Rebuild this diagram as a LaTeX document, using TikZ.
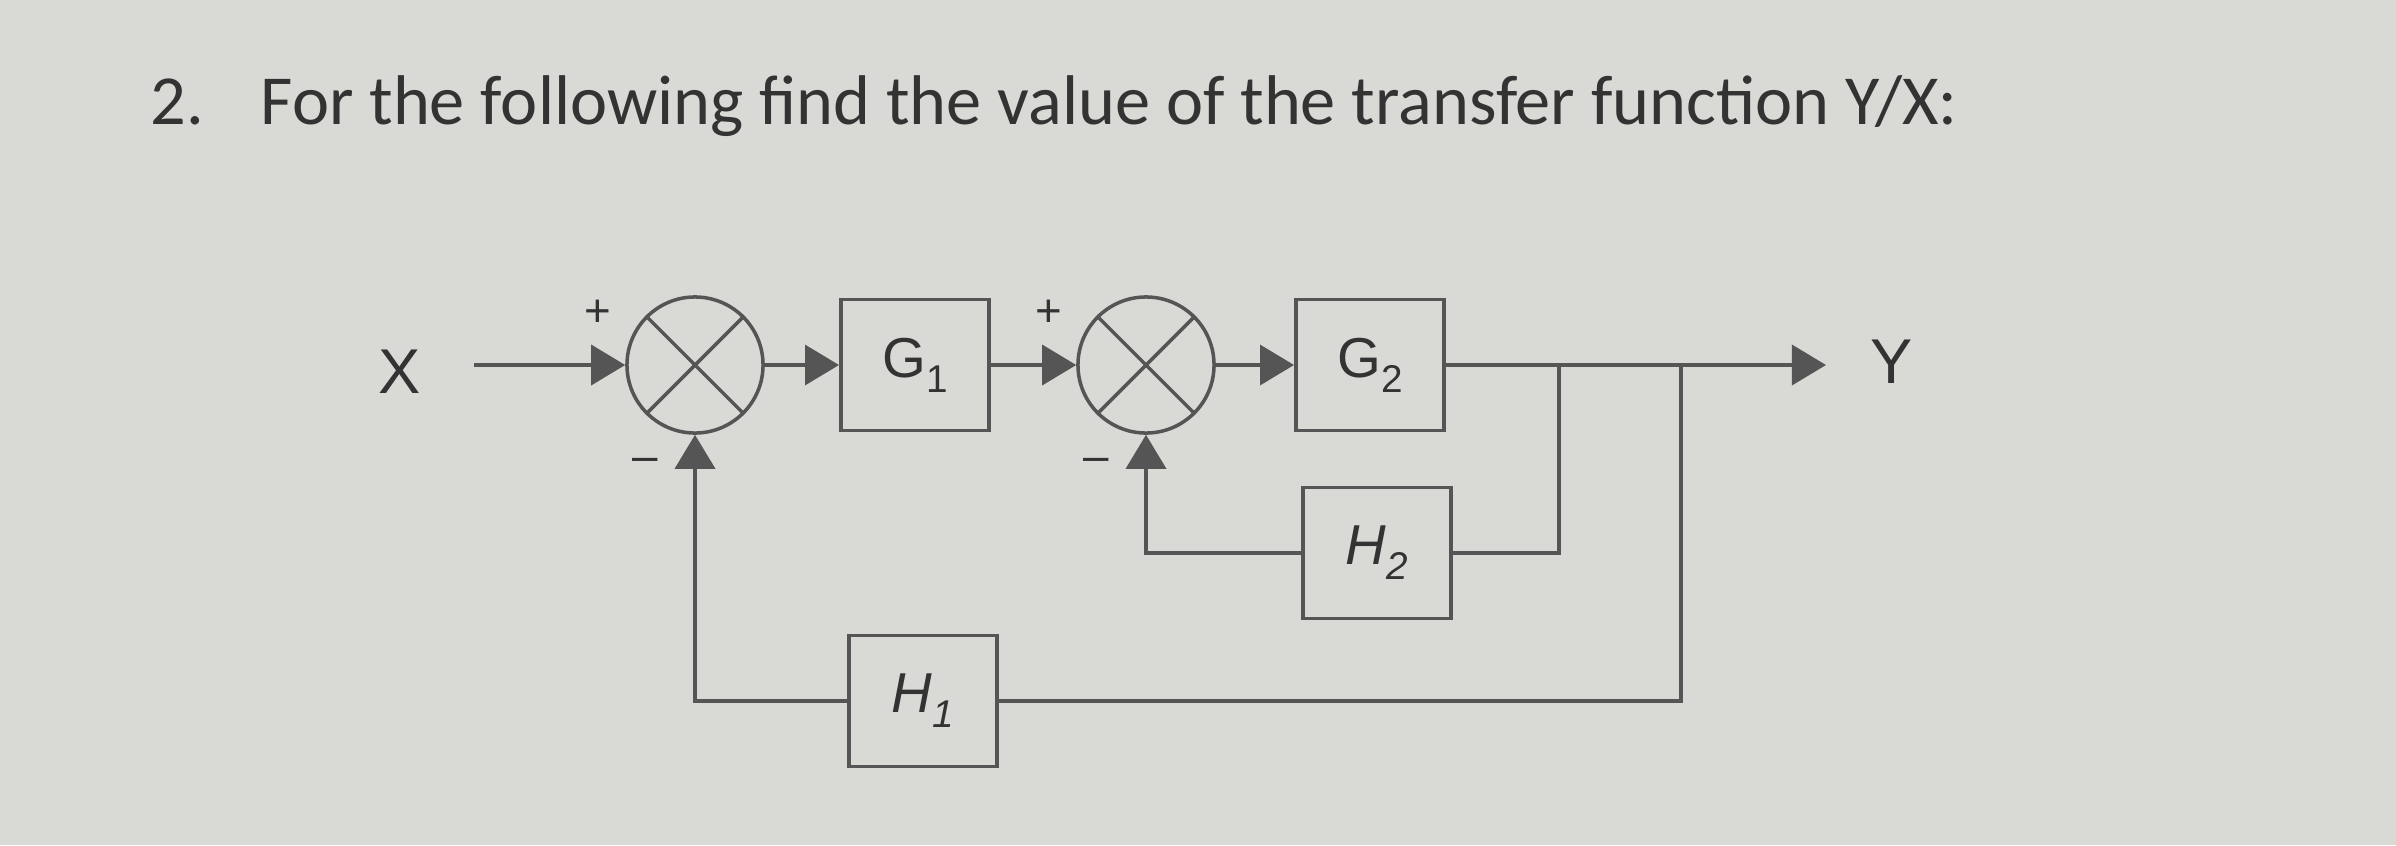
\documentclass[tikz,border=0pt]{standalone}
\usepackage{xcolor}
\usepackage{fontspec}
\setmainfont{Liberation Sans}
\newfontfamily\titlefont{Carlito}
\usepackage{tikz}
\usetikzlibrary{positioning, arrows.meta, calc}
\definecolor{paper}{HTML}{D9D9D6}
\definecolor{ink}{HTML}{555555}
\definecolor{textink}{HTML}{333333}

\newcommand{\sublab}[2]{#1\raisebox{-0.5ex}{\fontsize{11}{13}\selectfont #2}}

\tikzset{
  block/.style={draw=ink, line width=1.1pt, minimum width=1.48cm, minimum height=1.31cm,
                text=textink, font=\fontsize{16}{18}\selectfont},
  sumjunction/.style={draw=ink, line width=1pt, circle, minimum size=1.36cm, inner sep=0pt},
  wire/.style={draw=ink, line width=1pt},
  sig/.style={wire, -{Triangle[length=0.34cm, width=0.4cm]}},
  sign/.style={text=textink, font=\fontsize{13}{15}\selectfont},
  signal/.style={text=textink, font=\fontsize{18}{21}\selectfont},
  heading/.style={anchor=base west, inner sep=0pt, text=textink, font=\titlefont\fontsize{20}{24}\selectfont},
}

\begin{document}
\begin{tikzpicture}[x=0.01cm, y=-0.01cm]
  \fill[paper] (0,0) rectangle (2396,845);
  \useasboundingbox (0,0) rectangle (2396,845);

  \node[heading] (num) at (150,124) {2.};
  \node[heading] (title) at (260,124)
    {For the following find the value of the transfer function Y/X:};

  % forward path
  \node[signal] (x) at (400,372) {X};
  \coordinate (xin) at (474,365);
  \node[sumjunction] (s1) at (695,365) {};
  \node[block] (g1) at (915,365) {\sublab{G}{1}};
  \node[sumjunction] (s2) at (1146,365) {};
  \node[block] (g2) at (1370,365) {\sublab{G}{2}};
  \coordinate (b1) at (1559,365);
  \coordinate (b2) at (1681,365);
  \coordinate (yout) at (1826,365);
  \node[signal] (y) at (1892,362) {Y};

  % feedback blocks
  \node[block] (h2) at (1377,553) {\sublab{\textit{H}}{\textit{2}}};
  \node[block] (h1) at (923,701) {\sublab{\textit{H}}{\textit{1}}};

  \draw[wire] (s1.north west) -- (s1.south east) (s1.north east) -- (s1.south west);
  \draw[wire] (s2.north west) -- (s2.south east) (s2.north east) -- (s2.south west);

  \draw[sig] (xin) -- (s1.west);
  \draw[sig] (s1.east) -- (g1.west);
  \draw[sig] (g1.east) -- (s2.west);
  \draw[sig] (s2.east) -- (g2.west);
  \draw[sig] (g2.east) -- (yout);

  \draw[wire] (b1) |- (h2.east);
  \draw[sig] (h2.west) -| (s2.south);
  \draw[wire] (b2) |- (h1.east);
  \draw[sig] (h1.west) -| (s1.south);

  % signs
  \node[sign] (p1) at ($(s1)+(-97,-52)$) {+};
  \node[sign] (m1) at ($(s1)+(-50,100)$) {--};
  \node[sign] (p2) at ($(s2)+(-97,-52)$) {+};
  \node[sign] (m2) at ($(s2)+(-50,100)$) {--};
\end{tikzpicture}
\end{document}
